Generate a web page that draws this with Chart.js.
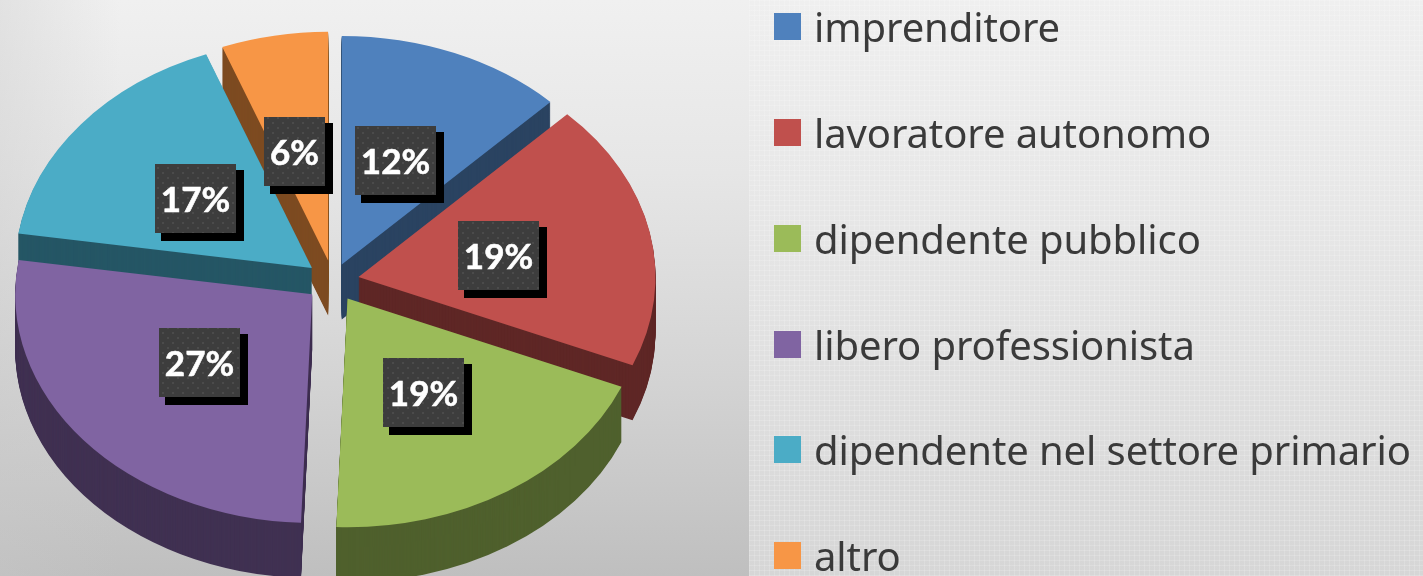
<!DOCTYPE html>
<html><head><meta charset="utf-8">
<style>
html,body{margin:0;padding:0;width:1423px;height:576px;overflow:hidden}
body{position:relative;background:linear-gradient(180deg,#f0f0f0 0%,#e6e6e6 30%,#d4d4d4 65%,#bfbfbf 100%)}
#shade{position:absolute;left:0;top:0;width:748px;height:576px;background:linear-gradient(90deg,rgba(200,200,200,.35) 0,rgba(200,200,200,0) 120px)}
#panel{position:absolute;left:749px;top:0;width:674px;height:576px;background:
 repeating-linear-gradient(0deg,rgba(255,255,255,.16) 0 1px,rgba(255,255,255,0) 1px 5px),
 repeating-linear-gradient(90deg,rgba(255,255,255,.16) 0 1px,rgba(255,255,255,0) 1px 5px),
 linear-gradient(180deg,#efefef 0%,#e6e6e6 40%,#d6d6d6 100%)}
canvas{position:absolute;left:0;top:0}
#wrap{position:absolute;left:0;top:0;width:1423px;height:576px}
.lg{position:absolute;left:774px;height:40px;white-space:nowrap;font:40px "Noto Sans",sans-serif;letter-spacing:-0.1px;color:#3a3a3a}
.lg i{position:absolute;left:0;top:6px;width:27px;height:27px}
.lg span{position:absolute;left:40px;top:50%;transform:translateY(-50%);line-height:40px}
</style>
<script src="https://cdn.jsdelivr.net/npm/chart.js@4"></script>
</head><body>
<div id="shade"></div><div id="panel"></div>
<div id="wrap"><canvas id="c" width="1423" height="576"></canvas></div>
<script>
const categories=["imprenditore","lavoratore autonomo","dipendente pubblico","libero professionista","dipendente nel settore primario","altro"];
const shares=[12.4,18.9,19.3,26.8,16.8,5.8];
const faceColors=["#4F81BD","#C0504D","#9BBB59","#8064A2","#4BACC6","#F79646"];
const wallColors=["#2A4361","#5F2726","#4F602D","#403152","#255665","#7D4B21"];
const explode=[23,26,27,27,27,27];
const paintOrder=[5,0,4,1,3,2];
const legendRows=[27,133,239,345,450,556];
const labelNudgeX=[-2,-3,-2,-1,-3,-7];
const labelNudgeY=[0,0,0,-3,1,1];
const squash=0.77, depth=55, labelFrac=0.49;

const patternCanvas=document.createElement('canvas');
patternCanvas.width=patternCanvas.height=10;
(function(){const p=patternCanvas.getContext('2d');p.fillStyle='#3d3d3d';p.fillRect(0,0,10,10);p.fillStyle='#4b4b4b';p.fillRect(2,2,2,2);p.fillRect(7,7,2,2);})();

function drawSlice(ctx,arc,color,dy,off,mid){
  const saved=arc.options;
  arc.options=Object.assign({},saved,{backgroundColor:color,offset:0,borderWidth:0});
  ctx.save();
  ctx.translate(0,dy);
  ctx.translate(0,arc.y);ctx.scale(1,squash);ctx.translate(0,-arc.y);
  ctx.translate(Math.cos(mid)*off,Math.sin(mid)*off);
  arc.draw(ctx);
  ctx.restore();
  arc.options=saved;
}
const pie3d={
  id:'pie3d',
  beforeDatasetDraw(chart,args){
    const ctx=chart.ctx, arcs=args.meta.data;
    paintOrder.forEach(i=>{
      const arc=arcs[i], off=arc.options.offset, mid=(arc.startAngle+arc.endAngle)/2;
      for(let d=depth;d>0;d--) drawSlice(ctx,arc,wallColors[i],d,off,mid);
      drawSlice(ctx,arc,faceColors[i],0,off,mid);
    });
    return false;
  },
  afterDatasetsDraw(chart){
    const ctx=chart.ctx, arcs=chart.getDatasetMeta(0).data;
    const total=shares.reduce((a,b)=>a+b,0);
    ctx.save();
    ctx.font='bold 35px Lato';ctx.textAlign='center';ctx.textBaseline='middle';
    arcs.forEach((arc,i)=>{
      const mid=(arc.startAngle+arc.endAngle)/2;
      const r=arc.options.offset+arc.outerRadius*labelFrac;
      const cx=arc.x+Math.cos(mid)*r+labelNudgeX[i], cy=arc.y+Math.sin(mid)*r*squash+labelNudgeY[i];
      const text=Math.round(shares[i]/total*100)+'%';
      const w=Math.round(ctx.measureText(text).width)+12, h=69;
      const x=Math.round(cx-w/2), y=Math.round(cy-h/2);
      ctx.fillStyle='#000';ctx.fillRect(x+6,y+6,w+2,h+2);
      ctx.fillStyle=ctx.createPattern(patternCanvas,'repeat');ctx.fillRect(x,y,w,h);
      ctx.fillStyle='#fff';
      ctx.strokeStyle='#fff';ctx.lineWidth=0.6;
      ctx.fillText(text,x+w/2,y+h/2+2);ctx.strokeText(text,x+w/2,y+h/2+2);
    });
    ctx.restore();
  }
};
new Chart(document.getElementById('c'),{
  type:'pie',
  data:{labels:categories,datasets:[{data:shares,backgroundColor:faceColors,borderWidth:0,offset:explode}]},
  options:{
    responsive:false,animation:false,radius:297,
    layout:{padding:{left:0,top:0,right:757,bottom:14}},
    plugins:{legend:{display:false},tooltip:{enabled:false}}
  },
  plugins:[pie3d]
});
const wrap=document.getElementById('wrap');
categories.forEach((name,i)=>{
  const row=document.createElement('div');row.className='lg';row.style.top=(legendRows[i]-20)+'px';
  const box=document.createElement('i');box.style.background=faceColors[i];
  const label=document.createElement('span');label.textContent=name;
  row.appendChild(box);row.appendChild(label);wrap.appendChild(row);
});
</script>
</body></html>
